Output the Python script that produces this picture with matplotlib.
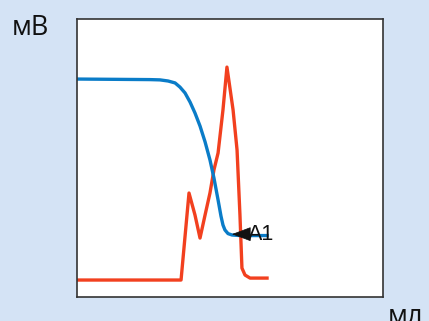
import matplotlib
matplotlib.use("Agg")
import matplotlib.pyplot as plt

# titration curve (potential) and its derivative, volume in mL
vol_e = [0, 4.77, 5.42, 5.95, 6.41, 6.73, 7.06, 7.39, 7.71, 8.04, 8.37, 8.69,
         8.95, 9.22, 9.41, 9.54, 9.67, 9.87, 10.13, 10.65, 12.42]
emf = [78.4, 78.2, 78.1, 77.7, 77.0, 75.5, 73.4, 70.1, 66.2, 61.5, 55.8, 49.3,
       42.8, 34.9, 29.1, 25.9, 24.1, 22.8, 22.3, 22.1, 22.1]

vol_d = [0, 6.80, 7.32, 7.71, 8.04, 8.37, 8.69, 8.95, 9.22, 9.54, 9.80, 10.20,
         10.46, 10.65, 10.78, 10.98, 11.31, 12.42]
deriv = [6.1, 6.1, 37.4, 29.5, 21.2, 29.5, 37.4, 45.7, 51.8, 67.3, 82.7, 67.3,
         52.9, 29.5, 10.4, 7.9, 6.8, 6.8]

ep_label = "A1"
ep_vol = 10.13
ep_emf = 22.6

bg = "#d4e3f5"
fig = plt.figure(figsize=(4.29, 3.21), dpi=100, facecolor=bg)
ax = fig.add_axes([0.1795, 0.0748, 0.7133, 0.866])
ax.set_facecolor("white")

ax.plot(vol_d, deriv, color="#f2401f", lw=2.4, solid_joinstyle="round")
ax.plot(vol_e, emf, color="#0a7cc8", lw=2.4, solid_joinstyle="round")

ax.annotate(ep_label, xy=(ep_vol, ep_emf), xytext=(ep_vol + 1.05, ep_emf),
            fontsize=15.5, family="Liberation Sans", ha="left", va="center",
            color="#111111",
            arrowprops=dict(arrowstyle="-|>,head_length=0.8,head_width=0.3",
                            color="#111111", shrinkA=0, shrinkB=0, lw=0.5))

ax.set_xlim(0, 20)
ax.set_ylim(0, 100)
ax.set_xticks([])
ax.set_yticks([])
for s in ax.spines.values():
    s.set_color("#333333")
    s.set_linewidth(1.2)

fig.text(0.028, 0.891, "мВ", fontsize=19.5, family="Open Sans", color="#111111",
         ha="left", va="baseline")
fig.text(0.904, -0.01, "мл", fontsize=19.5, family="Open Sans", color="#111111",
         ha="left", va="baseline")

fig.savefig("out.png", dpi=100, facecolor=bg)
